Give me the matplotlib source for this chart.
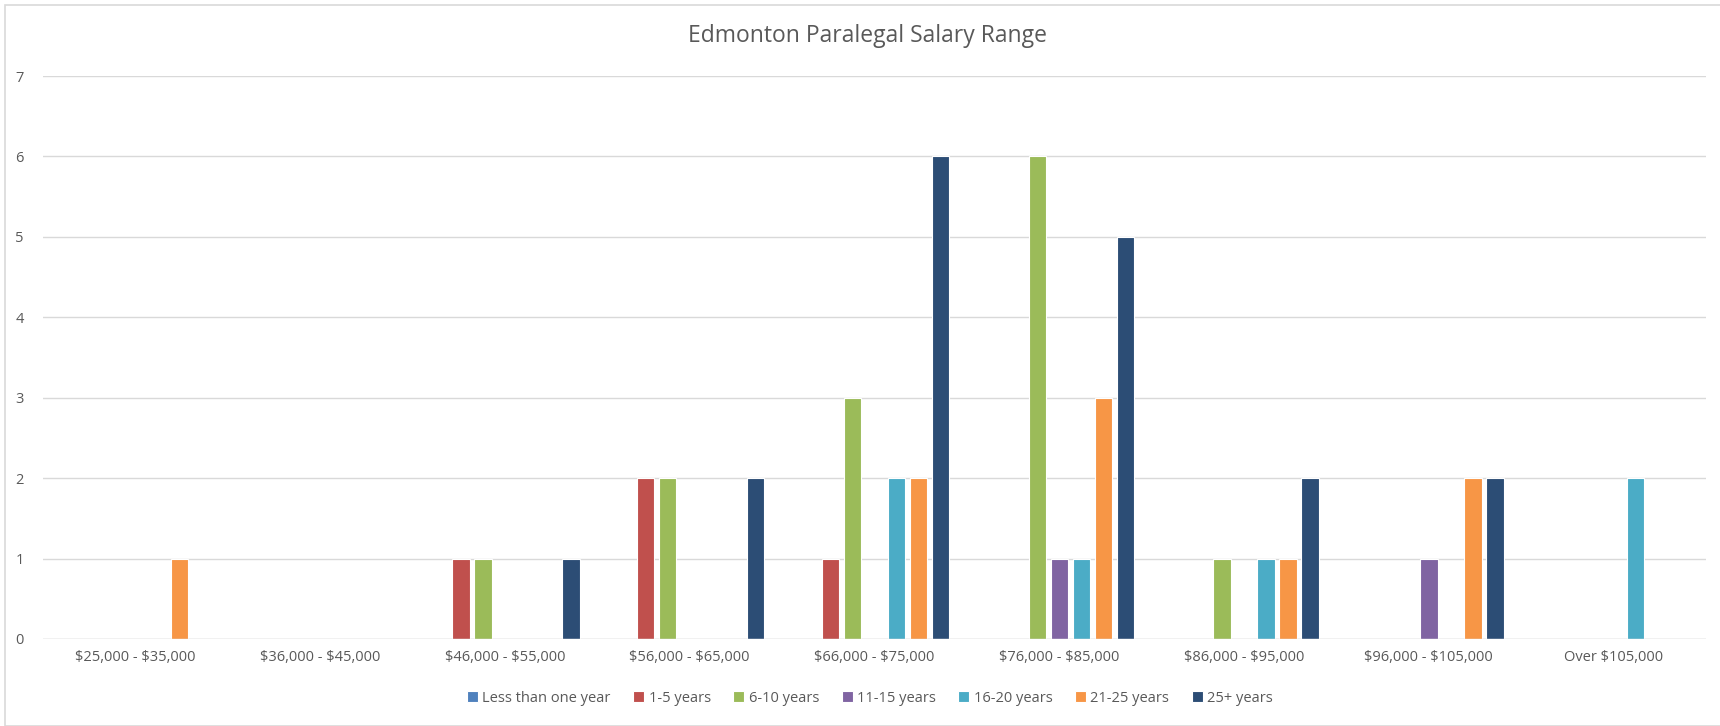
import matplotlib
matplotlib.use("Agg")
import matplotlib.pyplot as plt
import numpy as np
from matplotlib.patches import Rectangle

categories = ["$25,000 - $35,000", "$36,000 - $45,000", "$46,000 - $55,000",
              "$56,000 - $65,000", "$66,000 - $75,000", "$76,000 - $85,000",
              "$86,000 - $95,000", "$96,000 - $105,000", "Over $105,000"]
series_names = ["Less than one year", "1-5 years", "6-10 years", "11-15 years",
                "16-20 years", "21-25 years", "25+ years"]
less_than_one = [0, 0, 0, 0, 0, 0, 0, 0, 0]
yrs_1_5 = [0, 0, 1, 2, 1, 0, 0, 0, 0]
yrs_6_10 = [0, 0, 1, 2, 3, 6, 1, 0, 0]
yrs_11_15 = [0, 0, 0, 0, 0, 1, 0, 1, 0]
yrs_16_20 = [0, 0, 0, 0, 2, 1, 1, 0, 2]
yrs_21_25 = [1, 0, 0, 0, 2, 3, 1, 2, 0]
yrs_25_plus = [0, 0, 1, 2, 6, 5, 2, 2, 0]
series_values = [less_than_one, yrs_1_5, yrs_6_10, yrs_11_15, yrs_16_20, yrs_21_25, yrs_25_plus]
colors = ["#4F81BD", "#C0504D", "#9BBB59", "#8064A2", "#4BACC6", "#F79646", "#2C4D75"]

plt.rcParams['font.family'] = ['Open Sans', 'DejaVu Sans']
plt.rcParams['text.parse_math'] = False
text_color = "#595959"

fig = plt.figure(figsize=(17.2, 7.26), dpi=100)
W, H = 1720, 726
left, right, bottom, top = 43, 1706, 726 - 639, 726 - 76
ax = fig.add_axes([left / W, bottom / H, (right - left) / W, (top - bottom) / H])

x = np.arange(len(categories))
n = len(series_names)
step = 22 / ((right - left) / len(categories))
width = 17.5 / ((right - left) / len(categories))
for i, (name, vals, c) in enumerate(zip(series_names, series_values, colors)):
    ax.bar(x + (i - (n - 1) / 2) * step, vals, width=width, color=c, label=name,
           edgecolor="white", linewidth=0.8, zorder=3)

ax.set_xlim(-0.5, len(categories) - 0.5)
ax.set_ylim(0, 7)
ax.set_yticks(range(0, 8))
ax.yaxis.grid(True, color="#D9D9D9", linewidth=1.0, zorder=0)
for s in ax.spines.values():
    s.set_visible(False)
ax.axhline(0, color="#D9D9D9", linewidth=1.0, zorder=4)
ax.tick_params(axis='both', length=0, colors=text_color, labelsize=10.5)
ax.tick_params(axis='y', pad=14)
ax.tick_params(axis='x', pad=8)
ax.set_xticks(x)
ax.set_xticklabels(categories)

fig.text(868 / W, 1 - 36 / H, "Edmonton Paralegal Salary Range", ha="center", va="center",
         fontsize=16.5, color=text_color)

leg = fig.legend(loc="center", bbox_to_anchor=(870 / W, 1 - 698 / H), ncol=7, frameon=False,
                 fontsize=10.5, handlelength=0.75, handleheight=0.75, handletextpad=0.3,
                 columnspacing=1.55)
for t in leg.get_texts():
    t.set_color(text_color)

fig.patches.append(Rectangle((5 / W, 0), 1, 1 - 5 / H, transform=fig.transFigure,
                             fill=False, edgecolor="#D9D9D9", linewidth=1.2))

fig.savefig("out.png", dpi=100, facecolor="white")
